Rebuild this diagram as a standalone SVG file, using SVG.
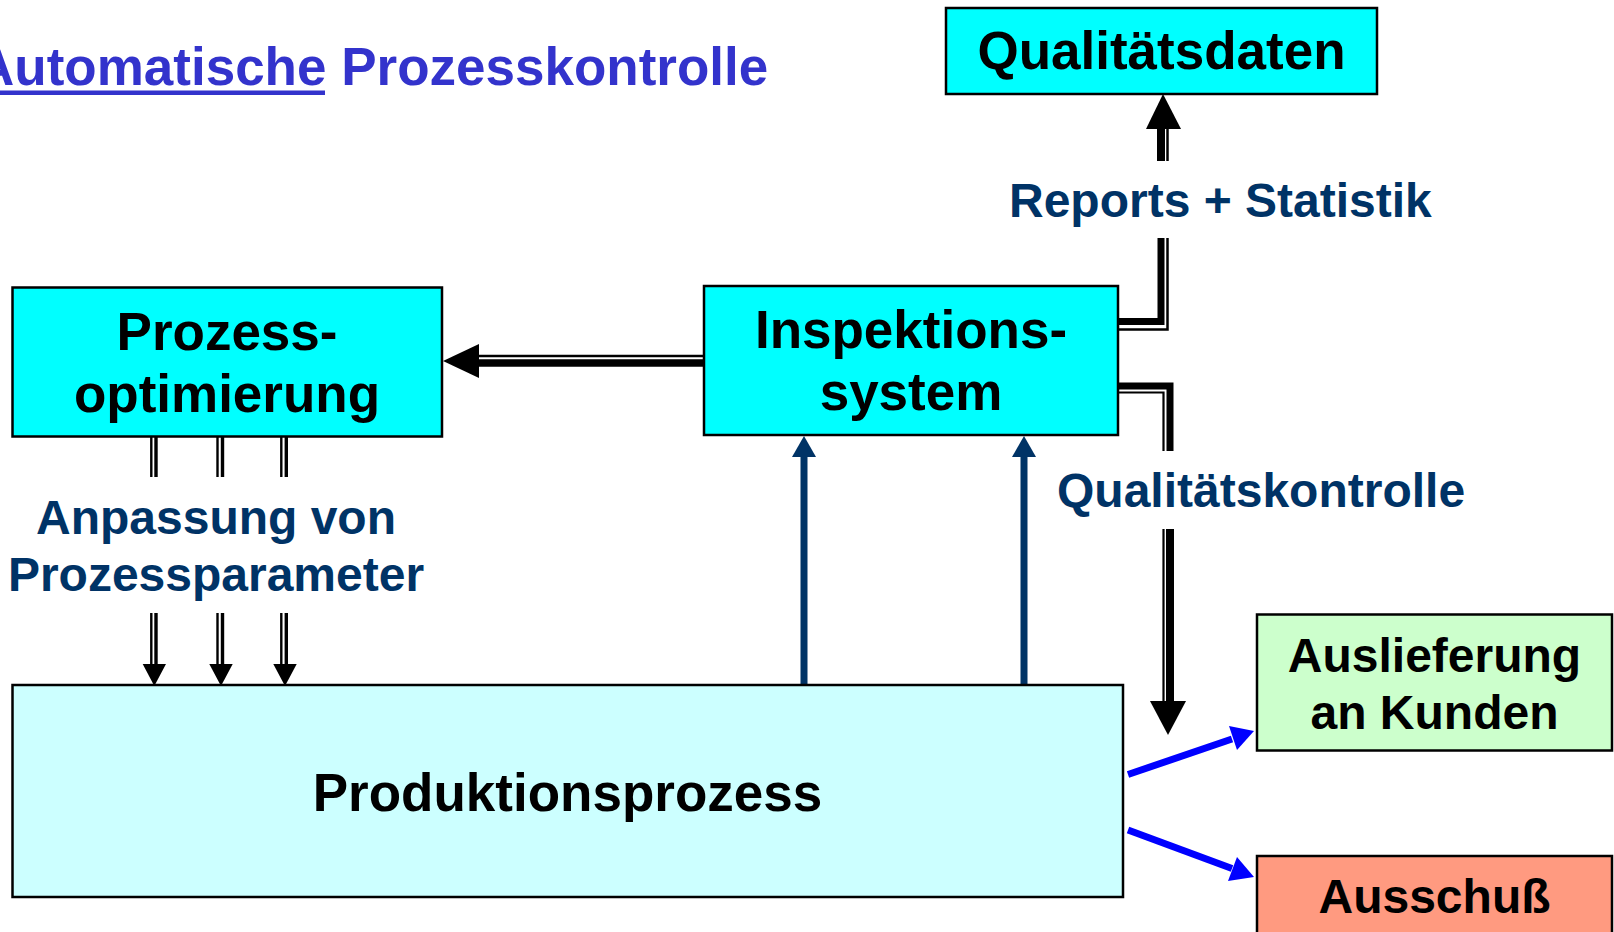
<svg xmlns="http://www.w3.org/2000/svg" width="1614" height="932" viewBox="0 0 1614 932">
<style>
.box{stroke:#000;stroke-width:2.5}
.t{font-family:"Liberation Sans",Arial,sans-serif;font-weight:bold;fill:#000}
.big{font-size:53px}
.mid{font-size:48px}
.lab{font-family:"Liberation Sans",Arial,sans-serif;font-weight:bold;font-size:48px;fill:#003366}
.k{fill:none;stroke:#000;stroke-linejoin:miter}
.nav{fill:none;stroke:#003366;stroke-width:7}
.blu{fill:none;stroke:#0000FF;stroke-width:7}
</style>
<rect width="1614" height="932" fill="#fff"/>
<g id="title">
<text x="-24" y="85" font-family="Liberation Sans, Arial, sans-serif" font-weight="bold" font-size="53" fill="#3333CC">Automatische Prozesskontrolle</text>
<rect x="0" y="90.5" width="325" height="4.5" fill="#3333CC"/>
</g>
<g id="connectors">
<path class="k" d="M704 356 H478" stroke-width="2.4"/>
<path class="k" d="M704 363 H478" stroke-width="7.4"/>
<polygon points="443,361 479,344 479,378" fill="#000"/>
<path class="k" d="M1118 321.5 H1161 V238" stroke-width="7"/>
<path class="k" d="M1118 329.5 H1167.5 V238" stroke-width="2.5"/>
<path class="k" d="M1161 161 V128" stroke-width="8"/>
<path class="k" d="M1167.5 161 V128" stroke-width="2.5"/>
<polygon points="1163,94 1146,129 1181,129" fill="#000"/>
<path class="k" d="M1118 386 H1170 V451" stroke-width="7"/>
<path class="k" d="M1118 392.5 H1163.5 V451" stroke-width="2.2"/>
<path class="k" d="M1170 529 V702" stroke-width="8"/>
<path class="k" d="M1163.5 529 V702" stroke-width="2.2"/>
<polygon points="1168,735 1150,701 1186,701" fill="#000"/>
<g>
<path class="k" d="M151.3 437 V477 M151.3 613 V666" stroke-width="2.4"/>
<path class="k" d="M156 437 V477 M156 613 V666" stroke-width="3.4"/>
<polygon points="154.3,686 142.7,664 166,664" fill="#000"/>
<path class="k" d="M217.5 437 V477 M217.5 613 V666" stroke-width="2.4"/>
<path class="k" d="M222.5 437 V477 M222.5 613 V666" stroke-width="3.4"/>
<polygon points="221,686 209.3,664 232.7,664" fill="#000"/>
<path class="k" d="M281.3 437 V477 M281.3 613 V666" stroke-width="2.4"/>
<path class="k" d="M286.3 437 V477 M286.3 613 V666" stroke-width="3.4"/>
<polygon points="285,686 273.3,664 296.7,664" fill="#000"/>
</g>
<path class="nav" d="M804 685 V455"/>
<polygon points="804,436 792,457 816,457" fill="#003366"/>
<path class="nav" d="M1024 685 V455"/>
<polygon points="1024,436 1012,457 1036,457" fill="#003366"/>
<path class="blu" d="M1128 774.5 L1232 739"/>
<polygon points="1254,731 1229,726 1237,750" fill="#0000FF"/>
<path class="blu" d="M1128 830 L1232 868.5"/>
<polygon points="1254,877 1237,857 1228,881" fill="#0000FF"/>
</g>
<g id="n-qualitaetsdaten">
<rect class="box" x="946" y="8" width="431" height="86" fill="#00FFFF"/>
<text class="t big" x="1161.5" y="69" text-anchor="middle">Qualitätsdaten</text>
</g>
<g id="n-prozessoptimierung">
<rect class="box" x="12.5" y="287.5" width="429.5" height="149" fill="#00FFFF"/>
<text class="t big" x="227" y="350" text-anchor="middle">Prozess-</text>
<text class="t big" x="227" y="411.5" text-anchor="middle">optimierung</text>
</g>
<g id="n-inspektionssystem">
<rect class="box" x="704" y="286" width="414" height="149" fill="#00FFFF"/>
<text class="t big" x="911" y="348" text-anchor="middle">Inspektions-</text>
<text class="t big" x="911" y="410" text-anchor="middle">system</text>
</g>
<g id="n-produktionsprozess">
<rect class="box" x="12.5" y="685" width="1110.5" height="212" fill="#CCFFFF"/>
<text class="t big" x="567.5" y="811" text-anchor="middle">Produktionsprozess</text>
</g>
<g id="n-auslieferung">
<rect class="box" x="1257" y="614.5" width="355" height="136" fill="#CCFFCC"/>
<text class="t mid" x="1434.5" y="671.5" text-anchor="middle">Auslieferung</text>
<text class="t mid" x="1434.5" y="728.5" text-anchor="middle">an Kunden</text>
</g>
<g id="n-ausschuss">
<rect class="box" x="1257" y="856" width="355" height="90" fill="#FF9A80"/>
<text class="t mid" x="1434.5" y="912.5" text-anchor="middle">Ausschuß</text>
</g>
<g id="labels">
<text class="lab" x="1009" y="217">Reports + Statistik</text>
<text class="lab" x="1057" y="507">Qualitätskontrolle</text>
<text class="lab" x="216" y="534" text-anchor="middle">Anpassung von</text>
<text class="lab" x="216" y="591" text-anchor="middle">Prozessparameter</text>
</g>
</svg>
